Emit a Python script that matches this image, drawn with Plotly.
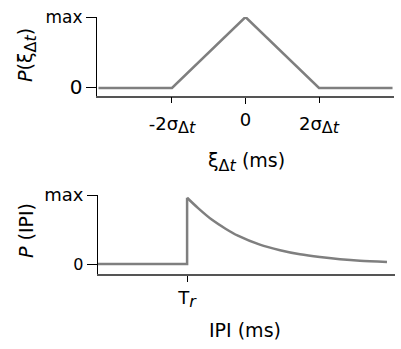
import plotly.graph_objects as go

# Timing-jitter distribution (units of sigma_Δt) and its density
xi_sigma = [-4, -2, 0, 2, 4]
p_xi = [0, 0, 1, 0, 0]
SUB = "<sub><span style='font-size:16px'>Δ<i>t</i></span></sub>"
xi_center_tick = [0]
xi_center_label = ["0"]
xi_sigma_ticks = [-2, 2]
xi_sigma_labels = ["-2σ" + SUB, "2σ" + SUB]

# Inter-pulse-interval density: zero up to the refractory time, then decay
t_refractory = 3.0
ipi_flat = [0, 3.0, 3.0]
p_ipi_flat = [0, 0, 0.96]
ipi_decay = [3.0, 3.37, 3.84, 4.28, 4.71, 5.45, 6.13, 6.80, 7.47, 8.15, 8.82, 9.73]
p_ipi_decay = [0.96, 0.81, 0.64, 0.515, 0.41, 0.28, 0.20, 0.14, 0.10, 0.07, 0.048, 0.03]

W, H = 401, 349
LINE = "#7f7f7f"
FONT = "DejaVu Sans"

fig = go.Figure()
fig.add_trace(go.Scatter(x=xi_sigma, y=p_xi, mode="lines",
                         line=dict(color=LINE, width=2.5), xaxis="x", yaxis="y"))
# empty trace so the overlaid σ-tick axis gets drawn
fig.add_trace(go.Scatter(x=[], y=[], mode="lines", xaxis="x3", yaxis="y",
                         hoverinfo="skip"))
fig.add_trace(go.Scatter(x=ipi_flat, y=p_ipi_flat, mode="lines",
                         line=dict(color=LINE, width=2.5), xaxis="x2", yaxis="y2"))
fig.add_trace(go.Scatter(x=ipi_decay, y=p_ipi_decay, mode="lines",
                         line=dict(color=LINE, width=2.5, shape="spline", smoothing=0.8),
                         xaxis="x2", yaxis="y2"))


def px_x(a, b):
    return [a / W, b / W]


def px_y(top, bottom):
    return [(H - bottom) / H, (H - top) / H]


xcommon = dict(showline=True, linecolor="#555555", linewidth=2, showgrid=False,
               zeroline=False, ticks="outside", ticklen=6, tickcolor="black",
               tickwidth=1, automargin=False,
               tickfont=dict(family=FONT, size=18, color="black"))
ycommon = dict(showline=True, linecolor="black", linewidth=1, showgrid=False,
               zeroline=False, ticks="outside", ticklen=10, tickcolor="black",
               tickwidth=1, automargin=False)

top_x_dom = px_x(97, 394)
top_x_range = [-4.04, 4.04]

fig.update_layout(
    width=W, height=H, margin=dict(l=0, r=0, t=0, b=0),
    paper_bgcolor="white", plot_bgcolor="white", showlegend=False,
    font=dict(family=FONT, color="black"),
    xaxis=dict(xcommon, domain=top_x_dom, range=top_x_range,
               tickvals=xi_center_tick, ticktext=xi_center_label, anchor="y"),
    # ±2σ ticks: their labels hang a little lower than the centre "0"
    xaxis3=dict(xcommon, domain=top_x_dom, range=top_x_range, showline=False,
                overlaying="x", anchor="y", side="bottom",
                tickvals=xi_sigma_ticks, ticktext=xi_sigma_labels,
                ticklabelstandoff=5),
    yaxis=dict(ycommon, domain=px_y(17, 96), range=[-0.113, 1.0],
               tickvals=[0, 1],
               ticktext=["<span style='font-size:20px'>0</span>", "max"],
               tickfont=dict(family=FONT, size=17, color="black"), anchor="x"),
    xaxis2=dict(xcommon, domain=px_x(98, 395), range=[0, 10],
                tickvals=[t_refractory],
                ticktext=["T<sub><span style='font-size:16px'><i>r</i></span></sub>"],
                anchor="y2"),
    yaxis2=dict(ycommon, domain=px_y(195, 274), range=[-0.145, 1.0],
                tickvals=[0, 1],
                ticktext=["<span style='font-size:16px'>0</span>", "max"],
                tickfont=dict(family=FONT, size=18, color="black"), anchor="x2"),
)

titles = [
    dict(text="ξ" + SUB + " (ms)", x=246, y=162, angle=0),
    dict(text="IPI (ms)", x=245, y=330, angle=0),
    dict(text="<i>P</i>(ξ" + SUB + ")", x=27, y=55, angle=-90),
    dict(text="<i>P</i> (IPI)", x=26, y=231, angle=-90),
]
for t in titles:
    fig.add_annotation(text=t["text"], x=t["x"] / W, y=(H - t["y"]) / H,
                       xref="paper", yref="paper", showarrow=False,
                       textangle=t["angle"], xanchor="center", yanchor="middle",
                       font=dict(family=FONT, size=19, color="black"))

fig.write_html("out.html")
